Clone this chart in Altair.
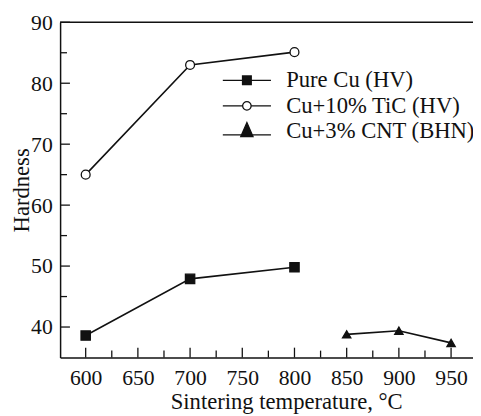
import altair as alt
import pandas as pd

# ---- data ----
series_names = ["Pure Cu (HV)", "Cu+10% TiC (HV)", "Cu+3% CNT (BHN)"]
temps_cu = [600, 700, 800]
pure_cu = [38.6, 47.9, 49.8]
cu_tic = [65.0, 83.0, 85.1]
temps_cnt = [850, 900, 950]
cu_cnt = [38.8, 39.4, 37.4]

x_major = [600, 650, 700, 750, 800, 850, 900, 950]
x_minor = [625, 675, 725, 775, 825, 875, 925]
y_major = [40, 50, 60, 70, 80, 90]
y_minor = [45, 55, 65, 75, 85]

rows = []
for t, v in zip(temps_cu, pure_cu):
    rows.append({"series": series_names[0], "temp": t, "hardness": v})
for t, v in zip(temps_cu, cu_tic):
    rows.append({"series": series_names[1], "temp": t, "hardness": v})
for t, v in zip(temps_cnt, cu_cnt):
    rows.append({"series": series_names[2], "temp": t, "hardness": v})
df = pd.DataFrame(rows)

FONT = "Liberation Serif"
INK = "#111111"
W, H = 420, 341

xscale = alt.Scale(domain=[575.5, 971], nice=False, zero=False)
yscale = alt.Scale(domain=[35, 90], nice=False, zero=False)

x_enc = alt.X(
    "temp:Q", scale=xscale,
    axis=alt.Axis(
        values=x_major, ticks=False, grid=False, domainColor=INK, domainWidth=1.5,
        labelFont=FONT, labelFontSize=22, labelColor=INK, labelPadding=10,
        labelFlush=False, labelOverlap=False,
        title="Sintering temperature, °C", titleFont=FONT, titleFontSize=23,
        titleFontWeight="normal", titleColor=INK, titleX=230, titleY=52,
        titleBaseline="alphabetic", titleAlign="center",
    ),
)
y_enc = alt.Y(
    "hardness:Q", scale=yscale,
    axis=alt.Axis(
        values=y_major, ticks=False, grid=False, domainColor=INK, domainWidth=1.5,
        labelFont=FONT, labelFontSize=22, labelColor=INK, labelPadding=8,
        labelFlush=False, labelOverlap=False,
        title="Hardness", titleFont=FONT, titleFontSize=23, titleFontWeight="normal",
        titleColor=INK, titleAngle=270, titleX=-32, titleY=H / 2,
        titleBaseline="alphabetic", titleAlign="center",
    ),
)

lines = alt.Chart(df).mark_line(color=INK, strokeWidth=1.6).encode(
    x=x_enc, y=y_enc, detail="series:N", order="temp:Q"
)

points = alt.Chart(df).mark_point(stroke=INK, strokeWidth=1.3, fillOpacity=1, opacity=1).encode(
    x="temp:Q", y="hardness:Q",
    shape=alt.Shape("series:N", scale=alt.Scale(domain=series_names,
                                                 range=["square", "circle", "triangle-up"]),
                    legend=None),
    fill=alt.Fill("series:N", scale=alt.Scale(domain=series_names,
                                               range=[INK, "white", INK]),
                  legend=None),
    size=alt.Size("series:N", scale=alt.Scale(domain=series_names, range=[90, 72, 190]),
                  legend=None),
)

# legend layer: custom symbols (line + marker), no marks drawn
leg_paths = [
    "M-2.04,0H2.04M-0.37,-0.37H0.37V0.37H-0.37Z",
    "M-2.04,0H-0.36M0.36,0H2.04M0.36,0A0.36,0.36,0,1,1,-0.36,0A0.36,0.36,0,1,1,0.36,0Z",
    "M-2.04,0.3H2.04M0,-0.75L0.52,0.45L-0.52,0.45Z",
]
leg = alt.Legend(
    orient="none", legendX=177, legendY=46, title=None,
    symbolSize=576, symbolStrokeWidth=1.3, symbolStrokeColor=INK, symbolOpacity=1,
    labelFont=FONT, labelFontSize=23, labelColor=INK, labelLimit=400,
    labelOffset=27, rowPadding=1, padding=0,
)
legend_layer = alt.Chart(df).transform_filter("datum.temp < 0").mark_point(
    strokeWidth=1.3, fillOpacity=1, opacity=1
).encode(
    x="temp:Q", y="hardness:Q",
    shape=alt.Shape("series:N", scale=alt.Scale(domain=series_names, range=leg_paths),
                    legend=leg),
    fill=alt.Fill("series:N", scale=alt.Scale(domain=series_names, range=[INK, "white", INK]),
                  legend=leg),
    stroke=alt.Stroke("series:N", scale=alt.Scale(domain=series_names, range=[INK, INK, INK]),
                      legend=leg),
)

# inward ticks
xt_major = alt.Chart(pd.DataFrame({"temp": x_major})).mark_rule(color=INK, strokeWidth=1.3).encode(
    x="temp:Q", y=alt.value(H), y2=alt.value(H - 10))
xt_minor = alt.Chart(pd.DataFrame({"temp": x_minor})).mark_rule(color=INK, strokeWidth=1.3).encode(
    x="temp:Q", y=alt.value(H), y2=alt.value(H - 7))
yt_major = alt.Chart(pd.DataFrame({"hardness": y_major})).mark_rule(color=INK, strokeWidth=1.3).encode(
    y="hardness:Q", x=alt.value(0), x2=alt.value(10))
yt_minor = alt.Chart(pd.DataFrame({"hardness": y_minor})).mark_rule(color=INK, strokeWidth=1.3).encode(
    y="hardness:Q", x=alt.value(0), x2=alt.value(7))
top_frame = alt.Chart(pd.DataFrame({"temp": [600]})).mark_rule(color=INK, strokeWidth=1.5).encode(
    x=alt.value(0), x2=alt.value(W), y=alt.value(0))

chart = alt.layer(
    lines, xt_major, xt_minor, yt_major, yt_minor, top_frame, points, legend_layer
).resolve_scale(
    shape="independent", fill="independent", stroke="independent"
).properties(
    width=W, height=H,
    autosize=alt.AutoSizeParams(type="none"),
    padding={"left": 53, "top": 11, "right": 0, "bottom": 57},
    background="white",
).configure_view(stroke=None)

chart.save("out.html", embed_options={"renderer": "svg", "actions": False})
